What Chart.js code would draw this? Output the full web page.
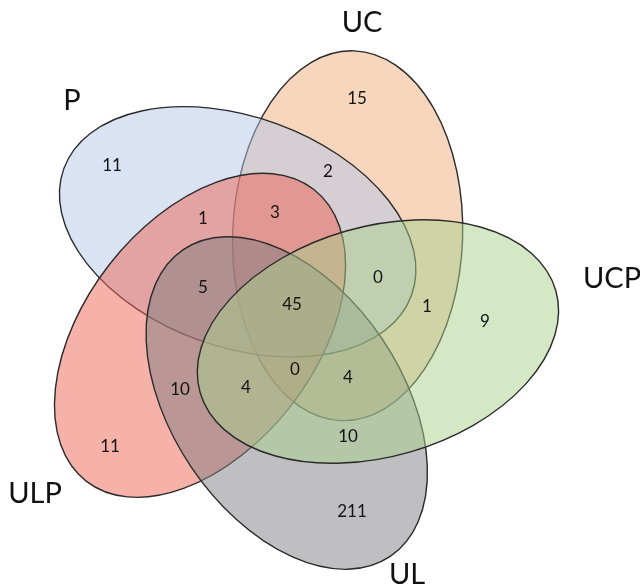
<!DOCTYPE html>
<html>
<head>
<meta charset="utf-8">
<script src="https://cdn.jsdelivr.net/npm/chart.js@4.4.1/dist/chart.umd.min.js"></script>
<style>
  html, body { margin: 0; padding: 0; background: #fff; }
</style>
</head>
<body>
<canvas id="venn" width="640" height="587"></canvas>
<script>
// sets, in ring order around the middle of the diagram
const setNames = ['UCP', 'UL', 'ULP', 'P', 'UC'];
// counts of each region
const regionCounts = [9, 211, 11, 11, 15, 2, 1, 3, 0, 1, 5, 45, 0, 4, 4, 10, 10];

// layout (chart units = pixels, y going down)
const regionPos = [
    [485, 322], [352, 512], [110, 447], [112, 166], [357, 99],
    [328, 172], [203, 219], [275, 213], [378, 278], [427, 307],
    [203, 288], [292, 305], [295, 370], [246, 388], [348, 378],
    [180, 390], [348, 437]
];
const setLabelPos = [[612, 279], [407, 575], [35, 494], [72, 101], [362, 23]];
const ring = { cx: 290, cy: 309.5, r: 93.6, start: 20, semiMajor: 185, semiMinor: 115, tilt: -36 };
const setFills = [
    'rgba(169, 209, 142, 0.5)',
    'rgba(127, 125, 130, 0.5)',
    'rgba(237, 100, 84, 0.5)',
    'rgba(180, 199, 231, 0.5)',
    'rgba(241, 173, 125, 0.5)'
];

const rad = d => d * Math.PI / 180;

const vennPlugin = {
    id: 'venn',
    beforeDatasetsDraw(chart) {
        const { ctx, scales: { x, y } } = chart;
        ctx.save();
        // last set in the ring is drawn first
        for (let k = setNames.length - 1; k >= 0; k--) {
            const phi = rad(ring.start + 72 * k);
            const cx = ring.cx + ring.r * Math.cos(phi);
            const cy = ring.cy + ring.r * Math.sin(phi);
            const px = x.getPixelForValue(cx);
            const py = y.getPixelForValue(cy);
            const rx = Math.abs(x.getPixelForValue(cx + ring.semiMajor) - px);
            const ry = Math.abs(x.getPixelForValue(cx + ring.semiMinor) - px);
            ctx.beginPath();
            ctx.ellipse(px, py, rx, ry, phi + rad(ring.tilt), 0, Math.PI * 2);
            ctx.fillStyle = setFills[k];
            ctx.fill();
            ctx.lineWidth = 1.4;
            ctx.strokeStyle = '#2b2b2b';
            ctx.stroke();
        }
        ctx.restore();
    },
    afterDatasetsDraw(chart) {
        const { ctx } = chart;
        ctx.save();
        ctx.textAlign = 'center';
        ctx.textBaseline = 'middle';
        chart.data.datasets.forEach((ds, i) => {
            const meta = chart.getDatasetMeta(i);
            ctx.font = ds.textFont;
            ctx.fillStyle = ds.textColor;
            meta.data.forEach((el, j) => {
                ctx.fillText(ds.texts[j], el.x, el.y);
            });
        });
        ctx.restore();
    }
};

new Chart(document.getElementById('venn'), {
    type: 'scatter',
    data: {
        datasets: [{
            data: regionPos.map(p => ({ x: p[0], y: p[1] })),
            texts: regionCounts.map(String),
            textFont: '17px Lato',
            textColor: '#141414',
            pointRadius: 0
        }, {
            data: setLabelPos.map(p => ({ x: p[0], y: p[1] })),
            texts: setNames,
            textFont: '29px Lato',
            textColor: '#111',
            pointRadius: 0
        }]
    },
    options: {
        responsive: false,
        animation: false,
        devicePixelRatio: 1,
        layout: { padding: 0 },
        plugins: { legend: { display: false }, tooltip: { enabled: false } },
        scales: {
            x: { type: 'linear', min: 0, max: 640, display: false },
            y: { type: 'linear', min: 0, max: 587, reverse: true, display: false }
        }
    },
    plugins: [vennPlugin]
});
</script>
</body>
</html>
